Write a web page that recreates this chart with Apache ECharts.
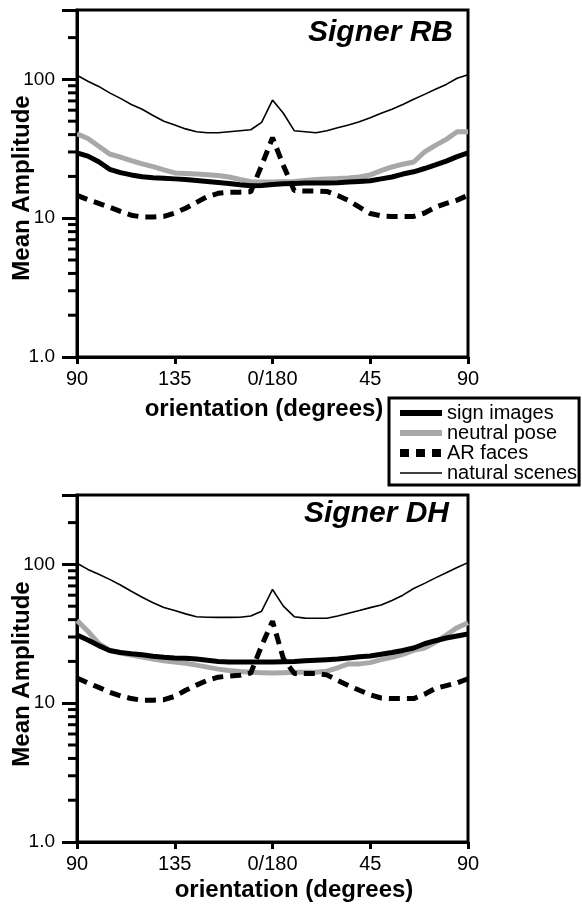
<!DOCTYPE html>
<html>
<head>
<meta charset="utf-8">
<script src="https://cdn.jsdelivr.net/npm/echarts@6/dist/echarts.min.js"></script>
<style>
html,body{margin:0;padding:0;background:#fff;}
#chart{width:582px;height:905px;}
</style>
</head>
<body>
<div id="chart"></div>
<script>
// x positions along the orientation axis (0 = 90°, 45 = 135°, 90 = 0/180°, 135 = 45°, 180 = 90°)
const positions = [0,5,10,15,20,25,30,35,40,45,50,55,60,65,70,75,80,85,90,95,100,105,110,115,120,125,130,135,140,145,150,155,160,165,170,175,180];
const xTickPositions = [0,45,90,135,180];
const xTickLabels = ['90','135','0/180','45','90'];
const seriesNames = ['sign images','neutral pose','AR faces','natural scenes'];
const panelTitles = ['Signer RB','Signer DH'];
const minorTickValues = [2,3,4,5,6,7,8,9,20,30,40,50,60,70,80,90,200];

// Signer RB
const rbSign    = [29.6,28,25.5,22.5,21.3,20.5,19.9,19.6,19.4,19.2,19,18.7,18.4,18.1,17.8,17.4,17.1,17.2,17.5,17.7,17.8,17.9,17.9,17.9,18,18.2,18.4,18.6,19.2,19.8,20.8,21.6,22.8,24.2,25.8,27.8,29.5];
const rbNeutral = [40.6,37.5,33,29,27.5,26,24.6,23.5,22.3,21.2,21,20.8,20.6,20.3,19.8,19,18.3,18.2,18.2,18.3,18.4,18.7,19,19.2,19.3,19.5,19.8,20.5,22,23.4,24.5,25.4,30,33.5,37,42,42];
const rbAR      = [14.6,13.6,12.8,12,11.2,10.5,10.2,10.2,10.3,10.9,11.8,13,14.3,15.1,15.4,15.4,15.5,24,38,24,15.8,15.7,15.7,15.6,14.6,13.4,12,10.8,10.4,10.3,10.3,10.3,10.9,12,12.8,13.5,14.6];
const rbNatural = [107,97,89,80,73,66,61,55,50,47,44,42,41.3,41.3,42,42.7,43.4,49,71,57,42.7,42,41.3,42.7,44.9,47,49.6,53,57,61,66,72,78,85,92,102,108];

// Signer DH
const dhSign    = [31,28.5,26,24,23.2,22.7,22.3,21.8,21.4,21.2,21.1,20.8,20.4,20,19.8,19.8,19.8,19.8,19.8,19.9,20,20.2,20.4,20.6,20.8,21.2,21.6,21.9,22.5,23.2,24,25,26.8,28.2,29.5,30.5,31.5];
const dhNeutral = [39.5,33,27,24,23,22.2,21.5,20.8,20.2,19.8,19.4,18.8,18.2,17.6,17.2,16.9,16.7,16.6,16.5,16.6,16.7,16.7,16.7,17,18,19.2,19.2,19.6,20.6,21.4,22.5,24,25,27.5,31,35,38];
const dhAR      = [15.2,14,13,12,11.3,10.8,10.5,10.5,10.6,11.2,12.4,13.5,14.6,15.4,15.7,15.9,16.5,26,39,21,16.4,16.4,16.4,16,14.6,13.4,12.4,11.5,10.9,10.8,10.8,10.8,11.6,12.8,13.4,14,15];
const dhNatural = [102,92,85,78,71,64,58,53,49,46.5,44,42,41.6,41.5,41.5,41.6,42.5,46,66,50,42,41,40.9,40.9,42.5,44.5,46.5,48.8,51,55,60,67,73,80,87,95,103];

const panels = [
  {sign: rbSign, neutral: rbNeutral, ar: rbAR, natural: rbNatural},
  {sign: dhSign, neutral: dhNeutral, ar: dhAR, natural: dhNatural}
];

const FONT = '"Liberation Sans", Arial, Helvetica, sans-serif';
const chart = echarts.init(document.getElementById('chart'), null, {renderer: 'canvas'});

const grids = [
  {left: 77, top: 10, width: 391, height: 347},
  {left: 77, top: 495, width: 391, height: 347}
];

function zip(ys){ return positions.map((p,i)=>[p, ys[i]]); }

const xAxes = grids.map((g,i)=>({
  type: 'value', gridIndex: i, min: 0, max: 180, interval: 45,
  axisLine: {show: true, lineStyle: {color: '#000', width: 3}},
  axisTick: {show: true, length: 7, lineStyle: {color: '#000', width: 3}},
  axisLabel: {
    show: true, margin: 12, fontSize: 20, color: '#000', fontFamily: FONT,
    formatter: v => { const k = xTickPositions.indexOf(Math.round(v)); return k >= 0 ? xTickLabels[k] : ''; }
  },
  splitLine: {show: false}
}));

const yAxes = grids.map((g,i)=>({
  type: 'log', logBase: 10, gridIndex: i, min: 1, max: 316.2278,
  axisLine: {show: true, lineStyle: {color: '#000', width: 3}},
  axisTick: {show: true, length: 15, lineStyle: {color: '#000', width: 3}},
  axisLabel: {
    show: true, margin: 22, fontSize: 19, color: '#000', fontFamily: FONT,
    formatter: v => {
      if (Math.abs(v - 1) < 1e-6) return '1.0';
      if (Math.abs(v - 10) < 1e-6) return '10';
      if (Math.abs(v - 100) < 1e-6) return '100';
      return '';
    }
  },
  splitLine: {show: false}
}));

const series = [];
panels.forEach((p, i) => {
  series.push({
    name: seriesNames[3], type: 'line', xAxisIndex: i, yAxisIndex: i, data: zip(p.natural),
    symbol: 'none', lineStyle: {color: '#000', width: 1.6}, itemStyle: {color: '#000'}, z: 3
  });
  series.push({
    name: seriesNames[1], type: 'line', xAxisIndex: i, yAxisIndex: i, data: zip(p.neutral),
    symbol: 'none', lineStyle: {color: '#a8a8a8', width: 5}, itemStyle: {color: '#a8a8a8'}, z: 4
  });
  series.push({
    name: seriesNames[0], type: 'line', xAxisIndex: i, yAxisIndex: i, data: zip(p.sign),
    symbol: 'none', lineStyle: {color: '#000', width: 5}, itemStyle: {color: '#000'}, z: 5
  });
  series.push({
    name: seriesNames[2], type: 'line', xAxisIndex: i, yAxisIndex: i, data: zip(p.ar),
    symbol: 'none', lineStyle: {color: '#000', width: 5, type: [11, 7]}, itemStyle: {color: '#000'}, z: 6
  });
  // minor log ticks on the y axis, placed through the axis scales
  series.push({
    type: 'custom', xAxisIndex: i, yAxisIndex: i, silent: true, clip: false, z: 10,
    data: minorTickValues.map(v => [0, v]),
    renderItem: (params, api) => {
      const pt = api.coord([api.value(0), api.value(1)]);
      return {type: 'line', shape: {x1: pt[0] - 9, y1: pt[1], x2: pt[0], y2: pt[1]},
              style: {stroke: '#000', lineWidth: 3}};
    }
  });
});

const option = {
  animation: false,
  backgroundColor: '#fff',
  textStyle: {fontFamily: FONT},
  grid: grids.map(g => Object.assign({show: true, borderColor: '#000', borderWidth: 3, backgroundColor: 'transparent'}, g)),
  xAxis: xAxes,
  yAxis: yAxes,
  legend: {
    orient: 'vertical', left: 389, top: 398,
    data: [
      {name: seriesNames[0], lineStyle: {width: 6, type: 'solid'}},
      {name: seriesNames[1], lineStyle: {width: 6, type: 'solid'}},
      {name: seriesNames[2], lineStyle: {width: 8, type: [9, 7]}},
      {name: seriesNames[3], lineStyle: {width: 1.6, type: 'solid'}}
    ],
    itemWidth: 42, itemHeight: 14, itemGap: 0,
    padding: [5, 2, 2, 7],
    borderColor: '#000', borderWidth: 3, backgroundColor: '#fff',
    itemStyle: {color: 'rgba(0,0,0,0)', borderWidth: 0, opacity: 0},
    lineStyle: {width: 'inherit', type: 'inherit', opacity: 1},
    textStyle: {fontSize: 20, lineHeight: 20, color: '#000', fontFamily: FONT}
  },
  graphic: [
    {type: 'text', x: 453, y: 33, style: {text: panelTitles[0], font: 'italic bold 30px ' + FONT, fill: '#000', textAlign: 'right', textVerticalAlign: 'middle'}},
    {type: 'text', x: 449, y: 514, style: {text: panelTitles[1], font: 'italic bold 30px ' + FONT, fill: '#000', textAlign: 'right', textVerticalAlign: 'middle'}},
    {type: 'text', x: 264, y: 409, style: {text: 'orientation (degrees)', font: 'bold 24px ' + FONT, fill: '#000', textAlign: 'center', textVerticalAlign: 'middle'}},
    {type: 'text', x: 294, y: 890, style: {text: 'orientation (degrees)', font: 'bold 24px ' + FONT, fill: '#000', textAlign: 'center', textVerticalAlign: 'middle'}},
    {type: 'text', x: 22, y: 188, rotation: Math.PI / 2, style: {text: 'Mean Amplitude', font: 'bold 24px ' + FONT, fill: '#000', textAlign: 'center', textVerticalAlign: 'middle'}},
    {type: 'text', x: 22, y: 674, rotation: Math.PI / 2, style: {text: 'Mean Amplitude', font: 'bold 24px ' + FONT, fill: '#000', textAlign: 'center', textVerticalAlign: 'middle'}}
  ],
  series: series
};
chart.setOption(option);
</script>
</body>
</html>
